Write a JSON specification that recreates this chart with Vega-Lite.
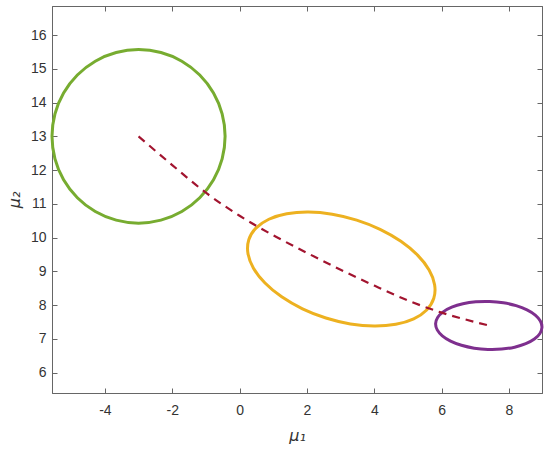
{
  "$schema": "https://vega.github.io/schema/vega-lite/v6.json",
  "width": 490,
  "height": 387,
  "autosize": {"type": "none"},
  "padding": {"left": 52, "top": 6, "right": 8, "bottom": 57},
  "background": "white",
  "config": {
    "view": {"stroke": "#666666", "strokeWidth": 1},
    "axis": {
      "grid": false,
      "domainColor": "#666666",
      "tickColor": "#666666",
      "tickSize": -5,
      "labelColor": "#333333",
      "labelFont": "Liberation Sans",
      "labelFontSize": 14,
      "titleFont": "DejaVu Sans",
      "titleFontSize": 16,
      "titleFontWeight": "normal",
      "titleFontStyle": "italic",
      "titleColor": "#333333"
    }
  },
  "datasets": {
    "ell": [
      {"g": "A", "i": 0, "x": -0.43, "y": 13.0},
      {"g": "A", "i": 1, "x": -0.518, "y": 13.665},
      {"g": "A", "i": 2, "x": -0.774, "y": 14.285},
      {"g": "A", "i": 3, "x": -1.183, "y": 14.817},
      {"g": "A", "i": 4, "x": -1.715, "y": 15.226},
      {"g": "A", "i": 5, "x": -2.335, "y": 15.482},
      {"g": "A", "i": 6, "x": -3.0, "y": 15.57},
      {"g": "A", "i": 7, "x": -3.665, "y": 15.482},
      {"g": "A", "i": 8, "x": -4.285, "y": 15.226},
      {"g": "A", "i": 9, "x": -4.817, "y": 14.817},
      {"g": "A", "i": 10, "x": -5.226, "y": 14.285},
      {"g": "A", "i": 11, "x": -5.482, "y": 13.665},
      {"g": "A", "i": 12, "x": -5.57, "y": 13.0},
      {"g": "A", "i": 13, "x": -5.482, "y": 12.335},
      {"g": "A", "i": 14, "x": -5.226, "y": 11.715},
      {"g": "A", "i": 15, "x": -4.817, "y": 11.183},
      {"g": "A", "i": 16, "x": -4.285, "y": 10.774},
      {"g": "A", "i": 17, "x": -3.665, "y": 10.518},
      {"g": "A", "i": 18, "x": -3.0, "y": 10.43},
      {"g": "A", "i": 19, "x": -2.335, "y": 10.518},
      {"g": "A", "i": 20, "x": -1.715, "y": 10.774},
      {"g": "A", "i": 21, "x": -1.183, "y": 11.183},
      {"g": "A", "i": 22, "x": -0.774, "y": 11.715},
      {"g": "A", "i": 23, "x": -0.518, "y": 12.335},
      {"g": "B", "i": 0, "x": 5.767, "y": 8.204},
      {"g": "B", "i": 1, "x": 5.791, "y": 8.609},
      {"g": "B", "i": 2, "x": 5.628, "y": 9.045},
      {"g": "B", "i": 3, "x": 5.285, "y": 9.483},
      {"g": "B", "i": 4, "x": 4.79, "y": 9.893},
      {"g": "B", "i": 5, "x": 4.172, "y": 10.247},
      {"g": "B", "i": 6, "x": 3.477, "y": 10.52},
      {"g": "B", "i": 7, "x": 2.75, "y": 10.695},
      {"g": "B", "i": 8, "x": 2.042, "y": 10.759},
      {"g": "B", "i": 9, "x": 1.401, "y": 10.707},
      {"g": "B", "i": 10, "x": 0.87, "y": 10.545},
      {"g": "B", "i": 11, "x": 0.485, "y": 10.281},
      {"g": "B", "i": 12, "x": 0.273, "y": 9.936},
      {"g": "B", "i": 13, "x": 0.249, "y": 9.531},
      {"g": "B", "i": 14, "x": 0.412, "y": 9.095},
      {"g": "B", "i": 15, "x": 0.755, "y": 8.657},
      {"g": "B", "i": 16, "x": 1.25, "y": 8.247},
      {"g": "B", "i": 17, "x": 1.868, "y": 7.893},
      {"g": "B", "i": 18, "x": 2.563, "y": 7.62},
      {"g": "B", "i": 19, "x": 3.29, "y": 7.445},
      {"g": "B", "i": 20, "x": 3.998, "y": 7.381},
      {"g": "B", "i": 21, "x": 4.639, "y": 7.433},
      {"g": "B", "i": 22, "x": 5.17, "y": 7.595},
      {"g": "B", "i": 23, "x": 5.555, "y": 7.859},
      {"g": "C", "i": 0, "x": 8.979, "y": 7.345},
      {"g": "C", "i": 1, "x": 8.931, "y": 7.531},
      {"g": "C", "i": 2, "x": 8.78, "y": 7.707},
      {"g": "C", "i": 3, "x": 8.535, "y": 7.863},
      {"g": "C", "i": 4, "x": 8.212, "y": 7.987},
      {"g": "C", "i": 5, "x": 7.833, "y": 8.072},
      {"g": "C", "i": 6, "x": 7.425, "y": 8.11},
      {"g": "C", "i": 7, "x": 7.015, "y": 8.1},
      {"g": "C", "i": 8, "x": 6.632, "y": 8.043},
      {"g": "C", "i": 9, "x": 6.301, "y": 7.941},
      {"g": "C", "i": 10, "x": 6.046, "y": 7.803},
      {"g": "C", "i": 11, "x": 5.881, "y": 7.637},
      {"g": "C", "i": 12, "x": 5.821, "y": 7.455},
      {"g": "C", "i": 13, "x": 5.869, "y": 7.269},
      {"g": "C", "i": 14, "x": 6.02, "y": 7.093},
      {"g": "C", "i": 15, "x": 6.265, "y": 6.937},
      {"g": "C", "i": 16, "x": 6.588, "y": 6.813},
      {"g": "C", "i": 17, "x": 6.967, "y": 6.728},
      {"g": "C", "i": 18, "x": 7.375, "y": 6.69},
      {"g": "C", "i": 19, "x": 7.785, "y": 6.7},
      {"g": "C", "i": 20, "x": 8.168, "y": 6.757},
      {"g": "C", "i": 21, "x": 8.499, "y": 6.859},
      {"g": "C", "i": 22, "x": 8.754, "y": 6.997},
      {"g": "C", "i": 23, "x": 8.919, "y": 7.163}
    ],
    "path": [
      {"x": -3.0, "y": 13.0},
      {"x": -2.0, "y": 12.15},
      {"x": -1.0, "y": 11.33},
      {"x": 0.0, "y": 10.65},
      {"x": 1.0, "y": 10.07},
      {"x": 2.0, "y": 9.55},
      {"x": 3.0, "y": 9.05},
      {"x": 4.0, "y": 8.58},
      {"x": 5.0, "y": 8.14},
      {"x": 6.0, "y": 7.78},
      {"x": 7.0, "y": 7.5},
      {"x": 7.4, "y": 7.4}
    ]
  },
  "layer": [
    {
      "data": {"name": "ell"},
      "mark": {"type": "line", "interpolate": "cardinal-closed", "strokeWidth": 3, "clip": false},
      "encoding": {
        "x": {
          "field": "x", "type": "quantitative",
          "scale": {"domain": [-5.57, 8.98], "nice": false, "zero": false},
          "axis": {"orient": "bottom", "values": [-4, -2, 0, 2, 4, 6, 8], "labelExpr": "'' + datum.value", "title": "μ₁", "labelPadding": 15, "titlePadding": 10}
        },
        "y": {
          "field": "y", "type": "quantitative",
          "scale": {"domain": [5.4, 16.86], "nice": false, "zero": false},
          "axis": {"orient": "left", "values": [6, 7, 8, 9, 10, 11, 12, 13, 14, 15, 16], "labelExpr": "'' + datum.value", "title": "μ₂", "labelPadding": 11, "titlePadding": 8}
        },
        "color": {
          "field": "g", "type": "nominal",
          "scale": {"domain": ["A", "B", "C"], "range": ["#77AC30", "#EDB120", "#7E2F8E"]},
          "legend": null
        },
        "order": {"field": "i", "type": "quantitative"}
      }
    },
    {
      "data": {"name": "path"},
      "mark": {"type": "line", "interpolate": "monotone", "color": "#A2142F", "strokeWidth": 2.2, "strokeDash": [8, 6]},
      "encoding": {
        "x": {
          "field": "x", "type": "quantitative",
          "axis": {"orient": "top", "values": [-4, -2, 0, 2, 4, 6, 8], "labels": false, "title": null}
        },
        "y": {
          "field": "y", "type": "quantitative",
          "axis": {"orient": "right", "values": [6, 7, 8, 9, 10, 11, 12, 13, 14, 15, 16], "labels": false, "title": null}
        }
      }
    }
  ],
  "resolve": {"axis": {"x": "independent", "y": "independent"}}
}
